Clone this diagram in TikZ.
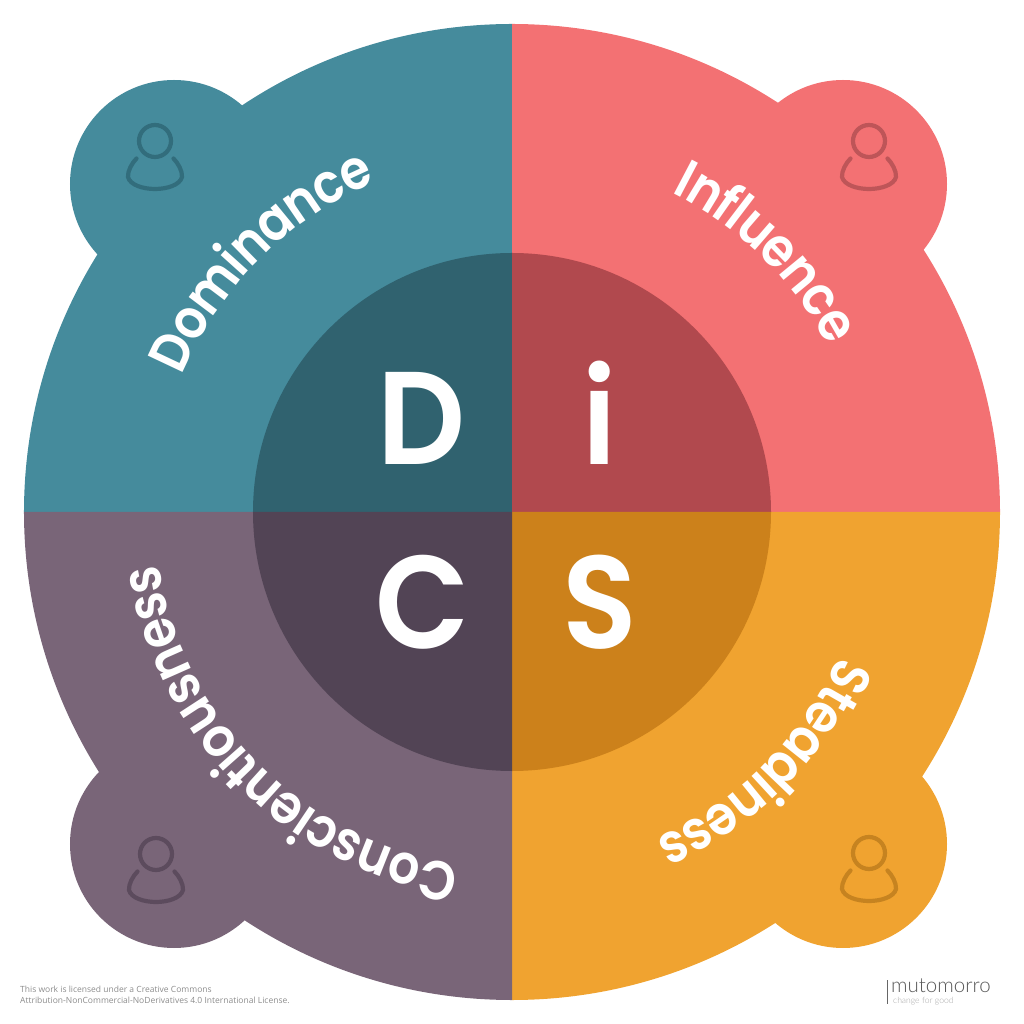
\documentclass[tikz,border=0pt]{standalone}
\usepackage{fontspec}
\setmainfont{Poppins SemiBold}
\newfontfamily\footfont{Open Sans}
\newfontfamily\logofont{Lato Light}
\newfontfamily\wordfont[FakeStretch=0.89]{Poppins SemiBold}
\newfontfamily\bigfont[FakeStretch=0.93]{Poppins SemiBold}
\definecolor{teal1}{HTML}{458B9C}\definecolor{teal2}{HTML}{30626F}\definecolor{teal3}{HTML}{326D7C}
\definecolor{red1}{HTML}{F37173}\definecolor{red2}{HTML}{B1494E}\definecolor{red3}{HTML}{BE5558}
\definecolor{pur1}{HTML}{796578}\definecolor{pur2}{HTML}{524455}\definecolor{pur3}{HTML}{5C4B5D}
\definecolor{ora1}{HTML}{F0A330}\definecolor{ora2}{HTML}{CC811B}\definecolor{ora3}{HTML}{C68320}
\newcommand{\wordsize}{\wordfont\fontsize{55}{55}\selectfont}
\tikzset{
  bigletter/.style={text=white,font=\bigfont\fontsize{132}{132}\selectfont,inner sep=0pt,anchor=base},
  arcletter/.style={text=white,font=\wordsize,inner sep=0pt,anchor=base},
  icon/.style={line width=4.2pt,line cap=round,fill=none},
  foot/.style={text=black!45,font=\fontsize{8.5}{11}\footfont,align=left,anchor=north west,inner sep=0pt},
}
\newcommand{\person}[3]{%
  \begin{scope}[shift={(#1,#2)}]
    \draw[icon,draw=#3] (0,0) circle (16);
    \draw[icon,draw=#3] (-18.5,-17.5) .. controls (-23,-22) and (-27.5,-30) .. (-27,-36)
      .. controls (-25,-44) and (-12,-48) .. (0,-48)
      .. controls (12,-48) and (25,-44) .. (27,-36)
      .. controls (27.5,-30) and (23,-22) .. (18.5,-17.5);
  \end{scope}}
\newlength{\pfxw}\newlength{\chw}\newlength{\totw}
\newcommand{\measure}[2]{\settowidth{#1}{\pgfinterruptpicture\wordsize #2\endpgfinterruptpicture}}
% #1 centre angle, #2 tracking px, #3 whole word, #4 comma list of letters, #5 letter count
\newcommand{\arcword}[5]{%
  \measure{\totw}{#3}%
  \gdef\pfx{}%
  \foreach \lt [count=\n from 0] in {#4} {%
    \measure{\pfxw}{\pfx}%
    \measure{\chw}{\lt}%
    \pgfmathsetmacro{\ang}{#1-(\pfxw+0.5*\chw+\n*#2-0.5*\totw-0.5*(#5-1)*#2)/357*57.29578}%
    \node[arcletter,rotate=\ang-90] at (\ang:357) {\lt};
    \xdef\pfx{\pfx\lt}%
  }}
\begin{document}
\begin{tikzpicture}[x=1pt,y=1pt]
\useasboundingbox (-512,-512) rectangle (512,512);
\fill[teal1] (0,0) -- (-488,0) arc (180:90:488) -- cycle;
\fill[teal1] (-338,328) circle (104);
\fill[red1] (0,0) -- (0,488) arc (90:0:488) -- cycle;
\fill[red1] (331,328) circle (104);
\fill[ora1] (0,0) -- (488,0) arc (0:-90:488) -- cycle;
\fill[ora1] (331,-332) circle (104);
\fill[pur1] (0,0) -- (0,-488) arc (270:180:488) -- cycle;
\fill[pur1] (-338,-332) circle (104);
\fill[teal2] (0,0) -- (-259,0) arc (180:90:259) -- cycle;
\fill[red2] (0,0) -- (0,259) arc (90:0:259) -- cycle;
\fill[ora2] (0,0) -- (259,0) arc (0:-90:259) -- cycle;
\fill[pur2] (0,0) -- (0,-259) arc (270:180:259) -- cycle;
\person{-357}{371}{teal3}
\person{357}{371}{red3}
\person{-356}{-342}{pur3}
\person{357}{-341}{ora3}
\node[bigletter] (d) at (-90,47) {D};
\node[bigletter] (i) at (88,47) {i};
\node[bigletter] (c) at (-89.5,-136) {C};
\node[bigletter] (s) at (87.5,-136) {S};
\arcword{135}{-1}{Dominance}{D,o,m,i,n,a,n,c,e}{9}
\arcword{45.5}{-1}{Influence}{I,n,f,l,u,e,n,c,e}{9}
\arcword{-45}{-1}{Steadiness}{S,t,e,a,d,i,n,e,s,s}{10}
\arcword{-135}{-1}{Conscientiousness}{C,o,n,s,c,i,e,n,t,i,o,u,s,n,e,s,s}{17}
\node[foot] (lic) at (-492,-474) {This work is licensed under a Creative Commons\\Attribution-NonCommercial-NoDerivatives 4.0 International License.};
\coordinate (b1) at (375,-468);
\coordinate (b2) at (375,-492);
\draw[black!60,line width=0.8pt] (b1) -- (b2);
\node[anchor=base west,inner sep=0pt,text=black!65,font=\fontsize{20.5}{20.5}\logofont] (logo) at (379,-480) {mutomorro};
\node[anchor=base west,inner sep=0pt,text=black!35,font=\fontsize{8.6}{9}\logofont] (tag) at (381,-491) {change for good};
\end{tikzpicture}
\end{document}
